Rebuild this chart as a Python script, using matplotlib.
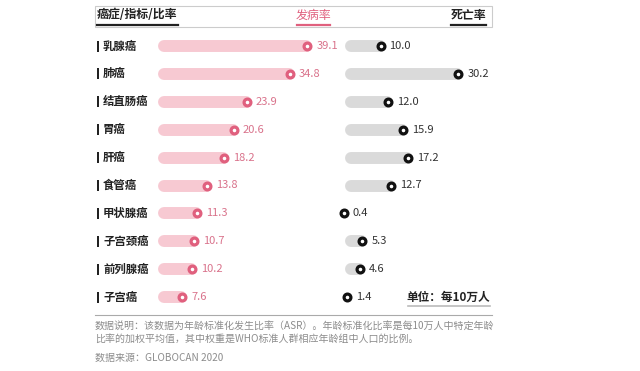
import matplotlib.pyplot as plt
from matplotlib.patches import Rectangle

plt.rcParams['font.family'] = ['Noto Sans CJK SC', 'DejaVu Sans']

# data
cancers = ['乳腺癌', '肺癌', '结直肠癌', '胃癌', '肝癌', '食管癌',
           '甲状腺癌', '子宫颈癌', '前列腺癌', '子宫癌']
incidence = [39.1, 34.8, 23.9, 20.6, 18.2, 13.8, 11.3, 10.7, 10.2, 7.6]
mortality = [10.0, 30.2, 12.0, 15.9, 17.2, 12.7, 0.4, 5.3, 4.6, 1.4]

W, H = 640, 371
PINK = '#e0607e'
PINK_BAR = '#f7c9d2'
PINK_TXT = '#d9728b'
GRAY_BAR = '#dadada'
DARK = '#222222'

fig = plt.figure(figsize=(W / 100, H / 100), dpi=100)

# background axes in pixel coordinates for text and frame
bg = fig.add_axes([0, 0, 1, 1])
bg.set_xlim(0, W)
bg.set_ylim(H, 0)
bg.axis('off')

row_y0, row_dy = 46, 27.9
n = len(cancers)


def make_axes(x0_px, x1_px, px_per_unit):
    # axes whose x=0 sits at x0_px and y rows line up with pixel rows
    top = row_y0 - row_dy / 2
    bottom = row_y0 + row_dy * (n - 0.5)
    ax = fig.add_axes([x0_px / W, 1 - bottom / H,
                       (x1_px - x0_px) / W, (bottom - top) / H])
    ax.set_xlim(0, (x1_px - x0_px) / px_per_unit)
    ax.set_ylim(n - 0.5, -0.5)
    ax.axis('off')
    return ax


K_L, K_R = 3.97, 3.85
ax_l = make_axes(152, 340, K_L)
ax_r = make_axes(342, 560, K_R)

bar_lw = 8.6  # points, ~12 px
for ax, vals, k, bar_c, ring_c, txt_c in [
        (ax_l, incidence, K_L, PINK_BAR, PINK, PINK_TXT),
        (ax_r, mortality, K_R, GRAY_BAR, '#111111', '#333333')]:
    start = (12 if ax is ax_l else 9) / k
    for i, v in enumerate(vals):
        end = v - 1 / k
        if end > start:
            ax.plot([start, end], [i, i], color=bar_c, lw=bar_lw,
                    solid_capstyle='round', zorder=1, clip_on=False)
        ax.plot(v, i, 'o', ms=4.9, mfc='white', mec=ring_c, mew=2.3,
                zorder=3, clip_on=False)
        ax.text(v + 9 / k, i, f'{v:.1f}', va='center', ha='left',
                fontsize=8, color=txt_c)

# row labels
for i, name in enumerate(cancers):
    y = row_y0 + row_dy * i
    bg.add_patch(Rectangle((96.5, y - 5.5), 2.6, 11, color=DARK, lw=0))
    bg.text(103, y, name, va='center', ha='left', fontsize=8.2,
            fontweight='bold', color=DARK)

# header
bg.add_patch(Rectangle((95, 6), 397, 21, fill=False, ec='#cccccc', lw=0.8))
bg.text(97, 15, '癌症/指标/比率', va='center', ha='left', fontsize=8.6,
        fontweight='bold', color=DARK)
bg.plot([97, 178], [25, 25], color=DARK, lw=1.6)
bg.text(313, 15, '发病率', va='center', ha='center', fontsize=8.6,
        color=PINK)
bg.plot([297, 330], [25, 25], color=PINK, lw=1.6)
bg.text(486, 15, '死亡率', va='center', ha='right', fontsize=8.6,
        fontweight='bold', color=DARK)
bg.plot([451, 486], [25, 25], color=DARK, lw=1.6)

# unit
bg.text(490, 297, '单位：每10万人', va='center', ha='right', fontsize=8.4,
        fontweight='bold', color=DARK)
bg.plot([408, 490], [306, 306], color='#bbbbbb', lw=1.2)

# separator and notes
bg.plot([95, 492], [315, 315], color='#aaaaaa', lw=0.8)
note_c = '#8c8c8c'
bg.text(95, 326, '数据说明：该数据为年龄标准化发生比率（ASR）。年龄标准化比率是每10万人中特定年龄',
        va='center', ha='left', fontsize=7.2, color=note_c)
bg.text(95, 339, '比率的加权平均值，其中权重是WHO标准人群相应年龄组中人口的比例。',
        va='center', ha='left', fontsize=7.2, color=note_c)
bg.text(95, 358, '数据来源：GLOBOCAN 2020', va='center', ha='left',
        fontsize=7.2, color=note_c)

fig.savefig('out.png', dpi=100, facecolor='white')
